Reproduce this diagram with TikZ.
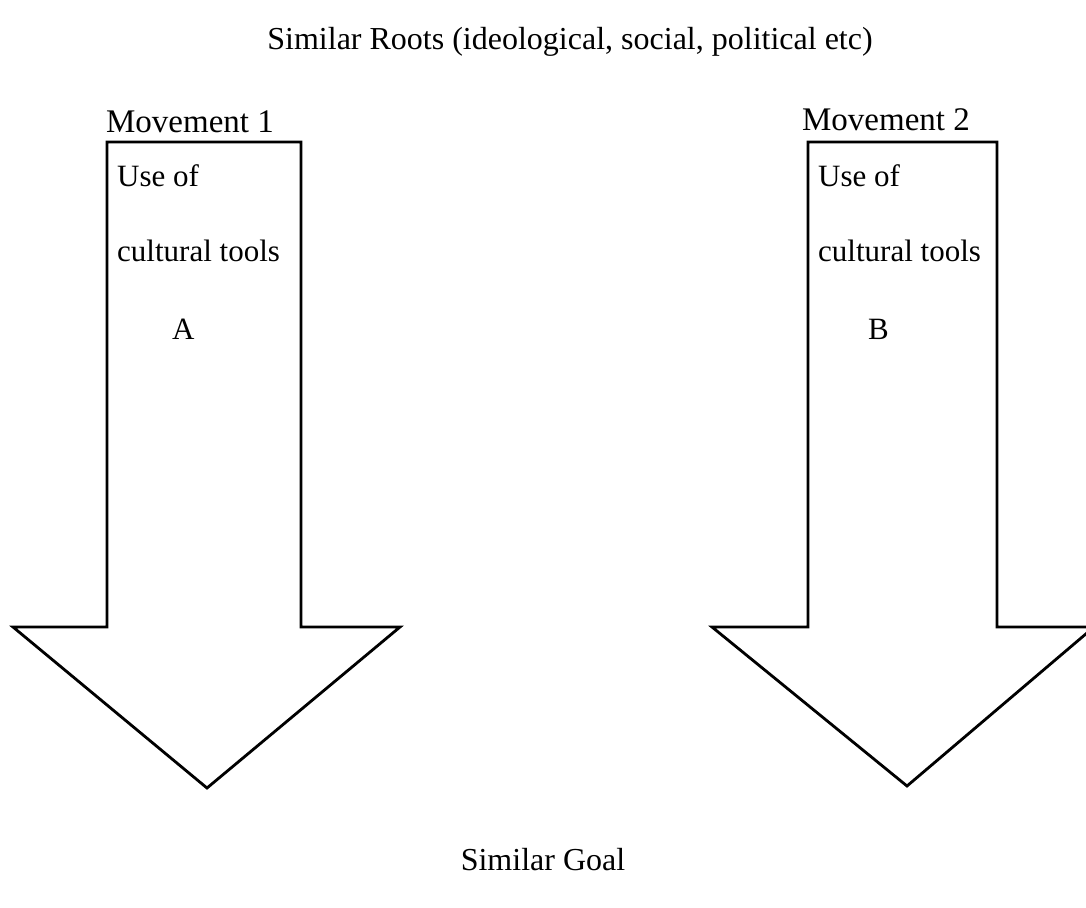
\documentclass[tikz,border=0pt]{standalone}
\usepackage{fontspec}
\setmainfont{Liberation Serif}
\begin{document}
\begin{tikzpicture}[x=1pt,y=-1pt,
  arrowshape/.style={draw=black,line width=2.8pt,line join=miter,fill=white},
  bigtext/.style={inner sep=0pt,font=\fontsize{32}{38}\selectfont},
  movtext/.style={inner sep=0pt,font=\fontsize{33}{38}\selectfont},
  smalltext/.style={inner sep=0pt,anchor=base west,font=\fontsize{31}{36}\selectfont}]
\useasboundingbox (0,0) rectangle (1086,907);
\fill[white] (0,0) rectangle (1086,907);
% title
\node[bigtext,anchor=base] (roots) at (570,50) {Similar Roots (ideological, social, political etc)};
% left arrow
\draw[arrowshape] (107,142) -- (301,142) -- (301,627) -- (400,627) -- (207,788) -- (13,627) -- (107,627) -- cycle;
\node[movtext,anchor=base] (mov1) at (190,132) {Movement 1};
\node[smalltext] (use1) at (117,186) {Use of};
\node[smalltext] (cult1) at (117,261) {cultural tools};
\node[smalltext] (a) at (172,339) {A};
% right arrow
\draw[arrowshape] (808,142) -- (997,142) -- (997,627) -- (1094,627) -- (907,786) -- (712,627) -- (808,627) -- cycle;
\node[movtext,anchor=base] (mov2) at (886,130) {Movement 2};
\node[smalltext] (use2) at (818,186) {Use of};
\node[smalltext] (cult2) at (818,261) {cultural tools};
\node[smalltext] (b) at (868,339) {B};
% goal
\node[bigtext,anchor=base] (goal) at (543,870) {Similar Goal};
\end{tikzpicture}
\end{document}
